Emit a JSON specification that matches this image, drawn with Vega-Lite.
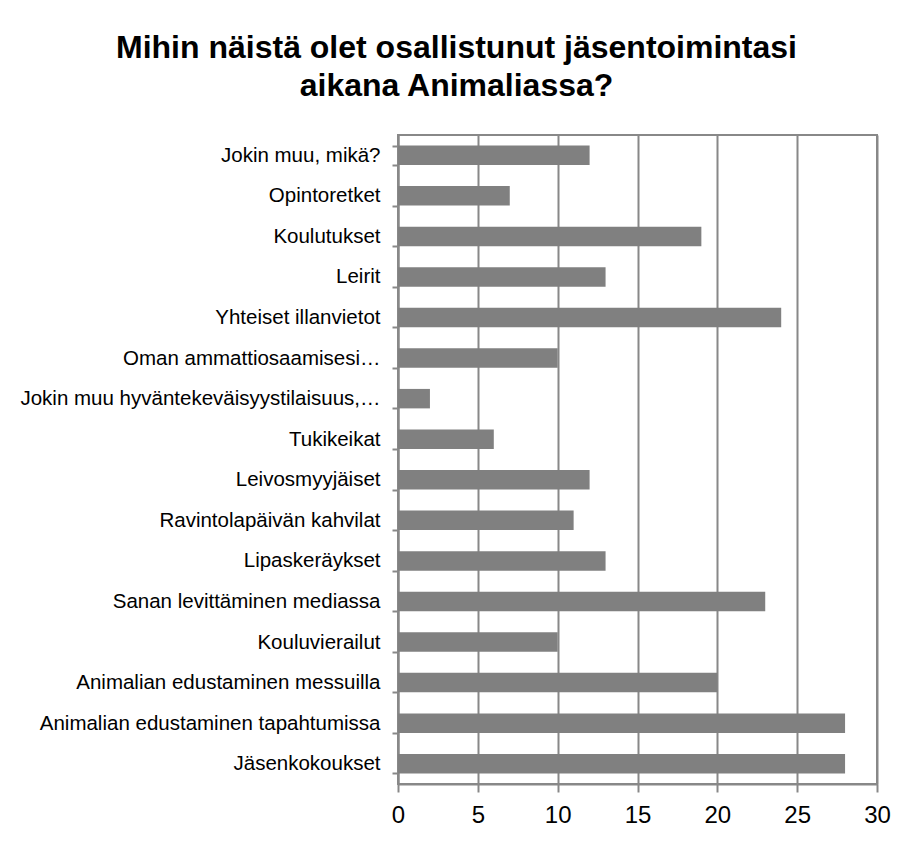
{
  "$schema": "https://vega.github.io/schema/vega-lite/v6.json",
  "autosize": "none",
  "width": 479,
  "height": 649,
  "padding": {"left": 398, "top": 135, "right": 34, "bottom": 57},
  "background": "white",
  "title": {
    "text": ["Mihin näistä olet osallistunut jäsentoimintasi", "aikana Animaliassa?"],
    "font": "Liberation Sans",
    "fontSize": 32,
    "fontWeight": "bold",
    "color": "black",
    "anchor": "middle",
    "dx": -181,
    "offset": 22,
    "lineHeight": 38
  },
  "data": {
    "values": [
      {"cat": "Jokin muu, mikä?", "value": 12},
      {"cat": "Opintoretket", "value": 7},
      {"cat": "Koulutukset", "value": 19},
      {"cat": "Leirit", "value": 13},
      {"cat": "Yhteiset illanvietot", "value": 24},
      {"cat": "Oman ammattiosaamisesi…", "value": 10},
      {"cat": "Jokin muu hyväntekeväisyystilaisuus,…", "value": 2},
      {"cat": "Tukikeikat", "value": 6},
      {"cat": "Leivosmyyjäiset", "value": 12},
      {"cat": "Ravintolapäivän kahvilat", "value": 11},
      {"cat": "Lipaskeräykset", "value": 13},
      {"cat": "Sanan levittäminen mediassa", "value": 23},
      {"cat": "Kouluvierailut", "value": 10},
      {"cat": "Animalian edustaminen messuilla", "value": 20},
      {"cat": "Animalian edustaminen tapahtumissa", "value": 28},
      {"cat": "Jäsenkokoukset", "value": 28}
    ]
  },
  "mark": {"type": "bar", "color": "#808080"},
  "encoding": {
    "y": {
      "field": "cat",
      "type": "nominal",
      "sort": null,
      "scale": {"paddingInner": 0.52, "paddingOuter": 0.26},
      "axis": {
        "title": null,
        "labelFont": "Liberation Sans",
        "labelFontSize": 20.5,
        "labelColor": "black",
        "labelLimit": 0,
        "labelPadding": 12,
        "tickBand": "extent",
        "tickSize": 6,
        "tickColor": "#888888",
        "tickWidth": 2,
        "domainColor": "#888888",
        "domainWidth": 2,
        "grid": false
      }
    },
    "x": {
      "field": "value",
      "type": "quantitative",
      "scale": {"domain": [0, 30], "nice": false},
      "axis": {
        "title": null,
        "values": [0, 5, 10, 15, 20, 25, 30],
        "labelFont": "Liberation Sans",
        "labelFontSize": 24,
        "labelColor": "black",
        "labelPadding": 11,
        "labelFlush": false,
        "tickSize": 8,
        "tickColor": "#888888",
        "tickWidth": 2,
        "domainColor": "#888888",
        "domainWidth": 2,
        "grid": true,
        "gridColor": "#888888",
        "gridWidth": 2
      }
    }
  },
  "config": {
    "view": {"stroke": "#888888", "strokeWidth": 2}
  }
}
